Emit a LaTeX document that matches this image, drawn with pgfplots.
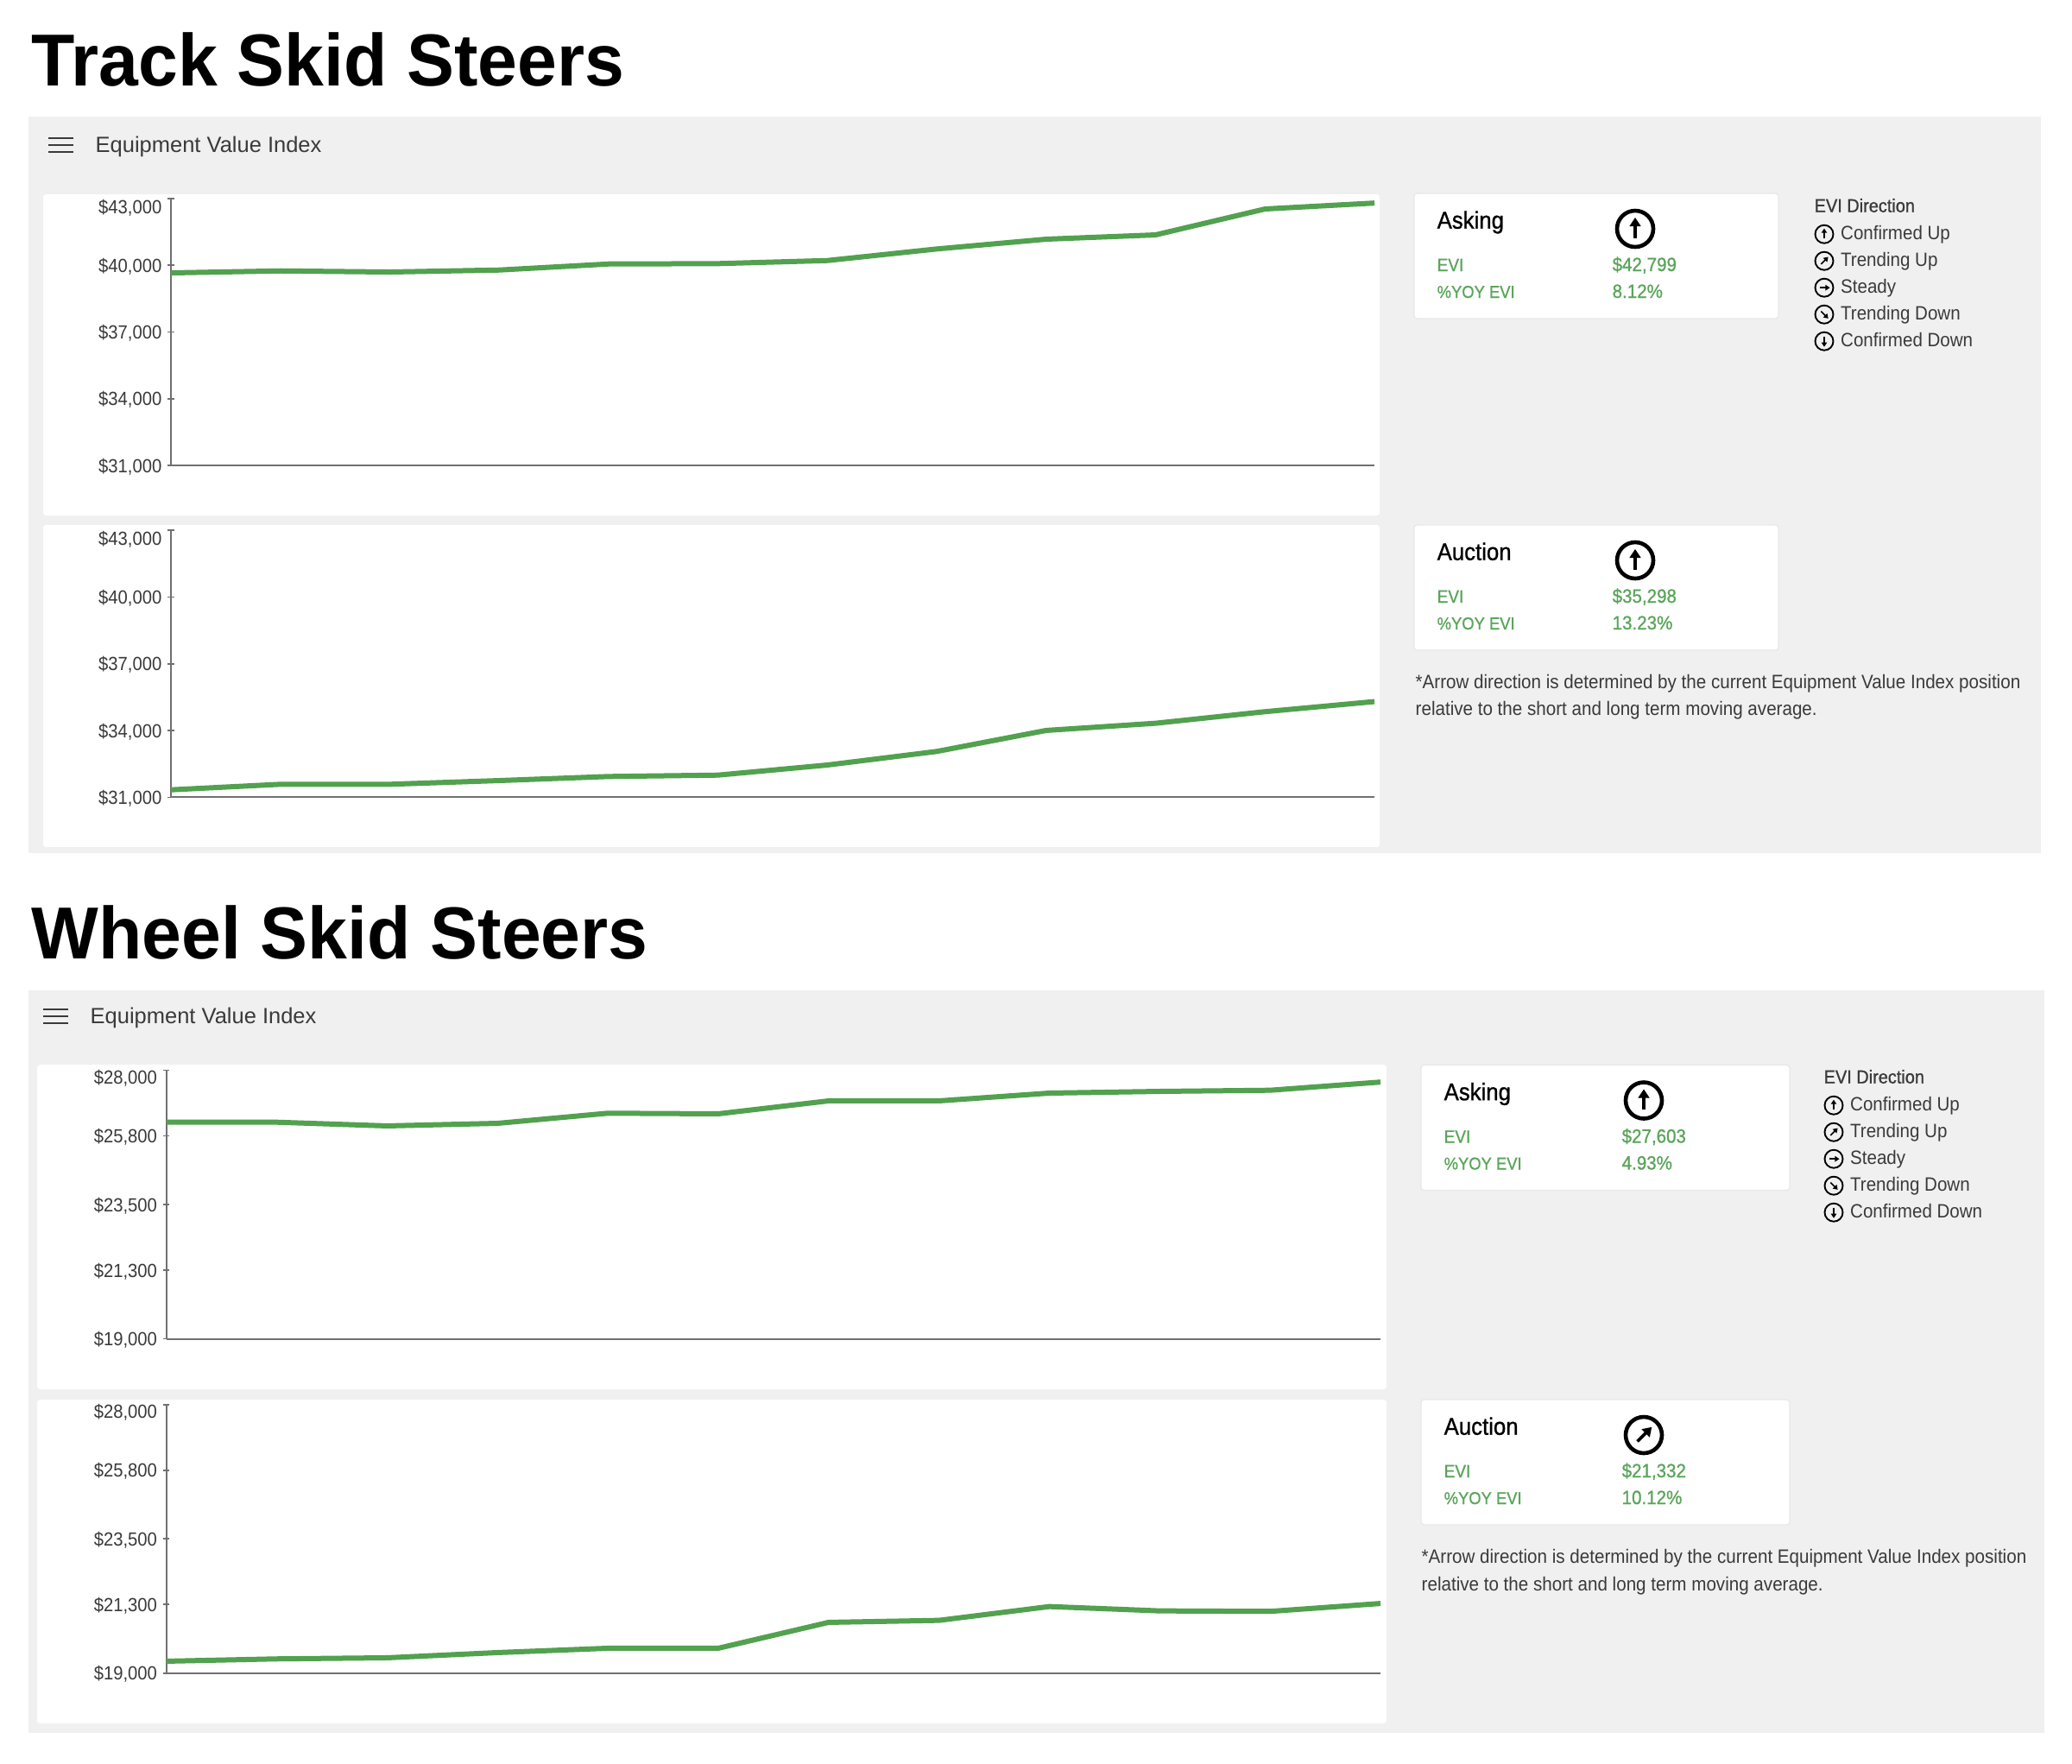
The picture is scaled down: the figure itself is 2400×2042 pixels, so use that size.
\documentclass[border=0pt]{standalone}
\usepackage{fontspec}
\usepackage{pgfplots}
\pgfplotsset{compat=1.18}
\setmainfont{Liberation Sans}
\newfontfamily\titlefont[FakeStretch=0.965]{Liberation Sans}
\newfontfamily\ui[FakeStretch=0.92]{Liberation Sans}
\newfontfamily\uiw{Liberation Sans}
\newfontfamily\uim[FakeStretch=0.92,FakeBold=0.9]{Liberation Sans}
\definecolor{panelbg}{HTML}{F0F0F0}
\definecolor{evigreen}{HTML}{52A14F}
\definecolor{txtgreen}{HTML}{5AA55A}
\definecolor{axgray}{HTML}{707070}
\definecolor{txtdark}{HTML}{3A3A3A}
\definecolor{cardedge}{HTML}{E8E8E8}
\newcommand{\fs}[1]{\fontsize{#1}{#1}\selectfont}
\pgfplotsset{
  evi/.style={
    scale only axis, anchor=north west, clip=false,
    axis lines=left, axis line style={-, color=axgray, line width=0.6pt},
    xmin=0, xmax=11, xtick=\empty,
    scaled y ticks=false,
    tick style={color=axgray, line width=0.5pt},
    major tick length=2.2pt,
    yticklabel style={font=\ui\fs{6.6}, color=txtdark, inner sep=1.9pt, yshift=-0.4pt},
  },
  eviline/.style={color=evigreen, line width=1.8pt, line join=round, line cap=butt, mark=none},
}
\newcommand{\arrowicon}[5]{% x y radius linewidth angle
  \begin{scope}[shift={(#1,#2)}, rotate=#5]
    \draw[black, line width=#4*0.3pt] (0,0) circle (#3);
    \draw[black, line width=#4*0.3pt*0.8] (0,0.5*#3) -- (0,-0.3*#3);
    \fill[black] (0,-0.62*#3) -- (0.32*#3,-0.14*#3) -- (-0.32*#3,-0.14*#3) -- cycle;
  \end{scope}}
% x y title value pct angle cardwidth valuex iconx
\newcommand{\infocard}[9]{%
  \begin{scope}[shift={(#1,#2)}]
    \filldraw[fill=white, draw=cardedge, line width=0.4pt, rounded corners=1pt] (0,0) rectangle (#7,145);
    \node[anchor=base west, inner sep=0, text=black] at (26,40.7) {\uim\fs{8.4}#3};
    \node[anchor=base west, inner sep=0, text=txtgreen] at (26,90) {\uim\fs{6.2}EVI};
    \node[anchor=base west, inner sep=0, text=txtgreen] at (26,121) {\uim\fs{6.0}\%YOY EVI};
    \node[anchor=base west, inner sep=0, text=txtgreen] at (#8,90) {\uim\fs{6.7}#4};
    \node[anchor=base west, inner sep=0, text=txtgreen] at (#8,121) {\uim\fs{6.7}#5};
    \arrowicon{#9}{41}{21}{4.6}{#6}
  \end{scope}}
\newcommand{\evilegend}[2]{%
  \begin{scope}[shift={(#1,#2)}]
    \node[anchor=base west, inner sep=0, text=txtdark] at (0,0) {\uim\fs{6.5}EVI Direction};
    \foreach \yy/\tt/\aa in {31.5/Confirmed Up/0, 62.5/Trending Up/-45, 93.5/Steady/-90, 124.5/Trending Down/-135, 155.5/Confirmed Down/180} {
      \arrowicon{12}{\yy-6}{10.5}{1.9}{\aa}
      \node[anchor=base west, inner sep=0, text=txtdark] at (30.5,\yy) {\ui\fs{6.7}\tt};
    }
  \end{scope}}
\newcommand{\burger}[2]{%
  \begin{scope}[shift={(#1,#2)}]
    \foreach \yy in {-8,0,8} \draw[txtdark, line width=0.75pt] (0,\yy) -- (29,\yy);
  \end{scope}}
\begin{document}
\begin{tikzpicture}[x=0.3pt,y=-0.3pt]
\fill[white] (0,0) rectangle (2400,2042);
% ---- Track panel
\node[anchor=base west, inner sep=0] at (36,99.5) {\titlefont\bfseries\fs{25.6}Track Skid Steers};
\fill[panelbg] (33,134.7) rectangle (2364,988);
\burger{56}{168}
\node[anchor=base west, inner sep=0, text=txtdark] at (110,176) {\uiw\fs{7.65}Equipment Value Index};
\fill[white, rounded corners=1pt] (50,225) rectangle (1598,597);
\fill[white, rounded corners=1pt] (50,608) rectangle (1598,981);
\infocard{1638}{224}{Asking}{\$42,799}{8.12\%}{0}{422}{229}{256}
\infocard{1638}{608}{Auction}{\$35,298}{13.23\%}{0}{422}{229}{256}
\evilegend{2101}{245.7}
\node[anchor=base west, inner sep=0, text=txtdark] at (1639,797) {\ui\fs{6.72}*Arrow direction is determined by the current Equipment Value Index position};
\node[anchor=base west, inner sep=0, text=txtdark] at (1639,828) {\ui\fs{6.72}relative to the short and long term moving average.};
% ---- Wheel panel
\node[anchor=base west, inner sep=0] at (36,1110) {\titlefont\bfseries\fs{25.6}Wheel Skid Steers};
\fill[panelbg] (33,1146.5) rectangle (2368,2007);
\burger{50}{1177}
\node[anchor=base west, inner sep=0, text=txtdark] at (104,1185) {\uiw\fs{7.65}Equipment Value Index};
\fill[white, rounded corners=1pt] (43,1233) rectangle (1606,1609);
\fill[white, rounded corners=1pt] (43,1621) rectangle (1606,1996);
\infocard{1646}{1233.5}{Asking}{\$27,603}{4.93\%}{0}{427}{232}{258}
\infocard{1646}{1621}{Auction}{\$21,332}{10.12\%}{-45}{427}{232}{258}
\evilegend{2112}{1254.7}
\node[anchor=base west, inner sep=0, text=txtdark] at (1646,1810.7) {\ui\fs{6.72}*Arrow direction is determined by the current Equipment Value Index position};
\node[anchor=base west, inner sep=0, text=txtdark] at (1646,1842.7) {\ui\fs{6.72}relative to the short and long term moving average.};
% ---- Track Asking
\begin{axis}[evi, at={(59.4pt,-69pt)}, width=418.2pt, height=92.7pt,
  ymin=31000, ymax=43000,
  ytick={31000,34000,37000,40000},
  yticklabels={{\$31,000},{\$34,000},{\$37,000},{\$40,000}},
  extra y ticks={43000}, extra y tick labels={\$43{,}000},
  extra y tick style={yticklabel style={yshift=-2.7pt}}]
\addplot[eviline] coordinates {(0,39659)(1,39748)(2,39698)(3,39787)(4,40059)(5,40075)(6,40214)(7,40735)(8,41174)(9,41368)(10,42533)(11,42799)};
\end{axis}
% ---- Track Auction
\begin{axis}[evi, at={(59.4pt,-184.2pt)}, width=418.2pt, height=92.8pt,
  ymin=31000, ymax=43000,
  ytick={31000,34000,37000,40000},
  yticklabels={{\$31,000},{\$34,000},{\$37,000},{\$40,000}},
  extra y ticks={43000}, extra y tick labels={\$43{,}000},
  extra y tick style={yticklabel style={yshift=-2.7pt}}]
\addplot[eviline] coordinates {(0,31334)(1,31582)(2,31582)(3,31749)(4,31932)(5,31994)(6,32448)(7,33058)(8,34002)(9,34324)(10,34844)(11,35298)};
\end{axis}
% ---- Wheel Asking
\begin{axis}[evi, at={(57.8pt,-371.85pt)}, width=421.9pt, height=93.3pt,
  ymin=19000, ymax=28000,
  ytick={19000,21300,23500,25800},
  yticklabels={{\$19,000},{\$21,300},{\$23,500},{\$25,800}},
  extra y ticks={28000}, extra y tick labels={\$28{,}000},
  extra y tick style={yticklabel style={yshift=-2.4pt}}]
\addplot[eviline] coordinates {(0,26258)(1,26258)(2,26134)(3,26220)(4,26559)(5,26539)(6,26973)(7,26973)(8,27233)(9,27291)(10,27329)(11,27603)};
\end{axis}
% ---- Wheel Auction
\begin{axis}[evi, at={(57.8pt,-488pt)}, width=421.9pt, height=93.3pt,
  ymin=19000, ymax=28000,
  ytick={19000,21300,23500,25800},
  yticklabels={{\$19,000},{\$21,300},{\$23,500},{\$25,800}},
  extra y ticks={28000}, extra y tick labels={\$28{,}000},
  extra y tick style={yticklabel style={yshift=-2.4pt}}]
\addplot[eviline] coordinates {(0,19397)(1,19475)(2,19512)(3,19686)(4,19831)(5,19831)(6,20699)(7,20766)(8,21229)(9,21084)(10,21067)(11,21332)};
\end{axis}
\end{tikzpicture}
\end{document}
